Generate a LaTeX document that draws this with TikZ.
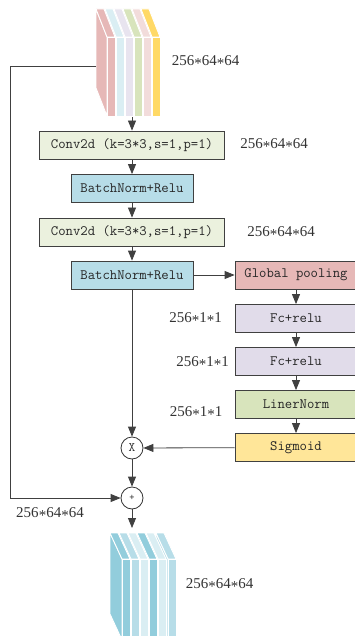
\documentclass[tikz,border=0pt]{standalone}
\usepackage{fontspec}
\setmainfont{Liberation Serif}
\usetikzlibrary{arrows.meta}
% box fills
\definecolor{Conv}{HTML}{EBF1DE}
\definecolor{Bn}{HTML}{B7DDE8}
\definecolor{Pool}{HTML}{E6B8B7}
\definecolor{Fc}{HTML}{E1DCEA}
\definecolor{Ln}{HTML}{D8E4BC}
\definecolor{Sig}{HTML}{FFE699}
% feature map slices
\definecolor{SlRed}{HTML}{E6B8B7}
\definecolor{SlBlue}{HTML}{DAEEF3}
\definecolor{SlLav}{HTML}{E8E4EF}
\definecolor{SlGreen}{HTML}{D8E4BC}
\definecolor{SlPink}{HTML}{F2DCDB}
\definecolor{SlYellow}{HTML}{FFD966}
\definecolor{OutDark}{HTML}{92CDDC}
\definecolor{OutMid}{HTML}{B7DDE8}
\definecolor{OutLight}{HTML}{DAEEF3}
\newcommand{\st}{\raisebox{-0.22em}{*}}

\tikzset{
  box/.style={draw=black!75, line width=0.8pt, minimum height=28pt, inner sep=0pt,
              font=\fontsize{14.3}{16}\ttfamily, text=black!85},
  convbox/.style={box, fill=Conv, minimum width=185pt},
  bnbox/.style={box, fill=Bn, minimum width=122pt},
  sebox/.style={box, minimum width=122pt},
  opnode/.style={circle, draw=black!80, line width=0.8pt, minimum size=22pt,
                 inner sep=0pt, fill=white, text=black!80},
  dimlabel/.style={font=\fontsize{15}{17}\selectfont, text=black!80},
  arr/.style={draw=black!75, line width=0.8pt, -{Triangle[length=10pt,width=8pt]}},
  slice/.style={draw=white, line width=0.9pt}
}

\begin{document}
\begin{tikzpicture}[x=1pt, y=-1pt]
    \clip (0,0) rectangle (355,636);

    % input feature map
    \foreach \x/\c in {152/SlYellow,143/SlPink,134/SlGreen,125/SlLav,116/SlBlue,107/SlRed}{
        \path[fill=\c, slice] (\x-11,9) -- (\x,37) -- (\x,116) -- (\x-11,88) -- cycle;
        \path[fill=\c, slice] (\x-11,9) -- (\x-3,9) -- (\x+8,37) -- (\x,37) -- cycle;
        \path[fill=\c, slice] (\x,37) rectangle (\x+8,116);
    }
    \coordinate (inA) at (132,117);
    \coordinate (skip) at (96,66);
    \node[dimlabel] (dimIn) at (205.5,62) {256\st64\st64};

    % main branch
    \node[convbox] (conv1) at (132,145) {Conv2d (k=3*3,s=1,p=1)};
    \node[bnbox]   (bn1)   at (132,188.5) {BatchNorm+Relu};
    \node[convbox] (conv2) at (132,232) {Conv2d (k=3*3,s=1,p=1)};
    \node[bnbox]   (bn2)   at (132,275) {BatchNorm+Relu};
    \node[dimlabel] (dimC1) at (274,145) {256\st64\st64};
    \node[dimlabel] (dimC2) at (281,233) {256\st64\st64};

    % squeeze and excitation branch
    \node[sebox, fill=Pool] (pool) at (296,275) {Global pooling};
    \node[sebox, fill=Fc]   (fc1)  at (296,318.5) {Fc+relu};
    \node[sebox, fill=Fc]   (fc2)  at (296,361.5) {Fc+relu};
    \node[sebox, fill=Ln]   (ln)   at (296,404.5) {LinerNorm};
    \node[sebox, fill=Sig]  (sig)  at (296,447.5) {Sigmoid};
    \node[dimlabel] (dimFc1) at (195.5,319) {256\st1\st1};
    \node[dimlabel] (dimFc2) at (202.5,363) {256\st1\st1};
    \node[dimlabel] (dimLn)  at (196,413) {256\st1\st1};

    % scale and residual add
    \node[opnode, font=\fontsize{13}{15}\ttfamily] (mul) at (132,448) {X};
    \node[opnode, font=\fontsize{10}{12}\ttfamily] (add) at (132,498) {+};
    \node[dimlabel] (dimSkip) at (50,514) {256\st64\st64};
    \coordinate (outA) at (132,528);

    % output feature map
    \foreach \x/\c in {168/OutMid,158/OutLight,149/OutDark,140/OutLight,131/OutMid,122/OutDark}{
        \path[fill=\c, slice] (\x-12,533) -- (\x,559) -- (\x,640) -- (\x-12,614) -- cycle;
        \path[fill=\c, slice] (\x-12,533) -- (\x-4,533) -- (\x+8,559) -- (\x,559) -- cycle;
        \path[fill=\c, slice] (\x,559) rectangle (\x+8,640);
    }
    \node[dimlabel] (dimOut) at (219.5,585) {256\st64\st64};

    % connectors
    \draw[arr] (inA) -- (conv1);
    \draw[arr] (conv1) -- (bn1);
    \draw[arr] (bn1) -- (conv2);
    \draw[arr] (conv2) -- (bn2);
    \draw[arr] (bn2) -- (pool);
    \draw[arr] (bn2) -- (mul);
    \draw[arr] (pool) -- (fc1);
    \draw[arr] (fc1) -- (fc2);
    \draw[arr] (fc2) -- (ln);
    \draw[arr] (ln) -- (sig);
    \draw[arr] (sig) -- (mul);
    \draw[arr] (mul) -- (add);
    \draw[arr] (add) -- (outA);
    \draw[arr] (skip) -- ++(-86,0) |- (add);
\end{tikzpicture}
\end{document}
